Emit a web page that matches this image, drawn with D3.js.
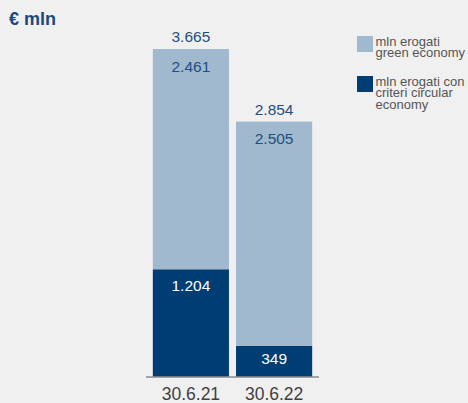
<!DOCTYPE html>
<html>
<head>
<meta charset="utf-8">
<script src="https://cdn.jsdelivr.net/npm/d3@7/dist/d3.min.js"></script>
<style>
  html, body { margin: 0; padding: 0; background: #f0f0f0; }
  svg { display: block; font-family: "Liberation Sans", Arial, sans-serif; }
</style>
</head>
<body>
<svg id="chart" width="468" height="403"></svg>
<script>
const categories = ["30.6.21", "30.6.22"];
const circularValues = [1204, 349];
const greenValues = [2461, 2505];
const totalValues = [3665, 2854];
const legendLines = [["mln erogati", "green economy"], ["mln erogati con", "criteri circular", "economy"]];
const unitLabel = "€ mln";

const fmt = v => d3.format(",")(v).replace(/,/g, ".");

const svg = d3.select("#chart");
const W = 468, H = 403;
svg.append("rect").attr("width", W).attr("height", H).attr("fill", "#f0f0f0");

const colGreen = "#a0b9cf", colCirc = "#003d73", txtBlue = "#1f4e80";

const x = d3.scaleBand().domain(categories).range([149.5, 315.5]).paddingInner(0.085).paddingOuter(0.04);
const y = d3.scaleLinear().domain([0, d3.max(totalValues)]).range([377, 49]);

const data = categories.map((c, i) => ({ c, circ: circularValues[i], green: greenValues[i], total: totalValues[i] }));
const stack = d3.stack().keys(["circ", "green"])(data);

svg.append("g").selectAll("g.layer").data(stack).join("g")
  .attr("fill", d => d.key === "circ" ? colCirc : colGreen)
  .selectAll("rect").data(d => d).join("rect")
  .attr("x", d => x(d.data.c))
  .attr("width", x.bandwidth())
  .attr("y", d => y(d[1]))
  .attr("height", d => y(d[0]) - y(d[1]));

// axis
const xAxis = d3.axisBottom(x).tickSize(0).tickPadding(0);
const ax = svg.append("g").attr("transform", "translate(0,377)").call(xAxis);
ax.select(".domain").remove();
ax.append("line").attr("x1", 146).attr("x2", 319).attr("y1", 0).attr("y2", 0)
  .attr("stroke", "#8c8c8c").attr("stroke-width", 1.5);
ax.selectAll(".tick text").attr("font-size", 17.5).attr("fill", "#404040")
  .attr("font-family", "Liberation Sans, Arial, sans-serif")
  .attr("dy", 0).attr("y", 22.5);

// labels
const cx = d => x(d.c) + x.bandwidth() / 2;
svg.selectAll("text.tot").data(data).join("text").attr("class", "tot")
  .attr("x", cx).attr("y", d => y(d.total) - 7)
  .attr("text-anchor", "middle").attr("font-size", 15.5).attr("fill", txtBlue)
  .text(d => fmt(d.total));
svg.selectAll("text.gr").data(data).join("text").attr("class", "gr")
  .attr("x", cx).attr("y", d => y(d.total) + 22.5)
  .attr("text-anchor", "middle").attr("font-size", 15.5).attr("fill", txtBlue)
  .text(d => fmt(d.green));
svg.selectAll("text.ci").data(data).join("text").attr("class", "ci")
  .attr("x", cx).attr("y", d => y(d.circ) + (d.circ > 600 ? 21.5 : 18.5))
  .attr("text-anchor", "middle").attr("font-size", 15.5).attr("fill", "#ffffff")
  .text(d => fmt(d.circ));

// title
svg.append("text").attr("x", 9).attr("y", 25).attr("font-size", 18).attr("font-weight", "bold")
  .attr("fill", "#1a4a7a").text(unitLabel);

// legend
const legendColors = [colGreen, colCirc];
const legendTop = [36, 76];
legendLines.forEach((lines, k) => {
  svg.append("rect").attr("x", 357).attr("y", legendTop[k]).attr("width", 16).attr("height", 16).attr("fill", legendColors[k]);
  lines.forEach((s, i) => svg.append("text").attr("x", 375.5).attr("y", legendTop[k] + 9.7 + i * 11.7)
    .attr("font-size", 13).attr("fill", "#555555").text(s));
});
</script>
</body>
</html>
